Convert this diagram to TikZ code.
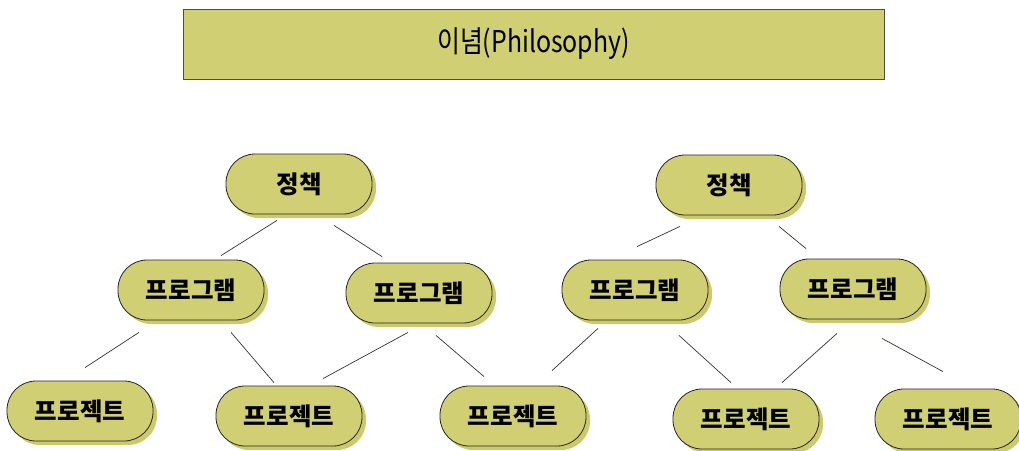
\documentclass[tikz,border=0pt]{standalone}
\usepackage{fontspec}
\setmainfont{Noto Sans CJK KR}
\usetikzlibrary{calc,shadows}
\definecolor{pillfill}{RGB}{209,207,116}
\definecolor{pillshade}{RGB}{203,201,108}
\tikzset{
  pill/.style={draw=black!85,line width=0.8pt,fill=pillfill,rounded corners=29pt,
    minimum width=146pt,minimum height=60pt,inner sep=0pt,
    font=\fontsize{24.5}{28}\selectfont\bfseries,
    drop shadow={shadow xshift=4pt,shadow yshift=-4pt,fill=pillshade,opacity=1}},
  link/.style={draw=black!80,line width=0.7pt}
}
\begin{document}
\begin{tikzpicture}[x=1pt,y=-1pt]
  \useasboundingbox (0,0) rectangle (1019,450);
  % Philosophy banner
  \node[draw=black!70,line width=0.8pt,fill=pillfill,minimum width=701pt,minimum height=70pt,
    font=\fontsize{30}{34}\selectfont] (title) at (533.5,44) {\scalebox{0.83}[1]{이념(Philosophy)}};
  % Policies
  \node[pill] (pol1) at (299,184) {정책};
  \node[pill] (pol2) at (729,185) {정책};
  % Programs
  \node[pill] (prg1) at (191,290) {프로그램};
  \node[pill] (prg2) at (419,293) {프로그램};
  \node[pill] (prg3) at (635,290) {프로그램};
  \node[pill] (prg4) at (853,289) {프로그램};
  % Projects
  \node[pill] (prj1) at (80,411) {프로젝트};
  \node[pill] (prj2) at (289,416) {프로젝트};
  \node[pill] (prj3) at (513,416) {프로젝트};
  \node[pill] (prj4) at (746,419) {프로젝트};
  \node[pill] (prj5) at (948,419) {프로젝트};
  % Policy to program
  \draw[link] ($(pol1.south)+(-22,6)$) -- ($(prg1.north)+(30,-4)$);
  \draw[link] ($(pol1.south)+(35,11)$) -- ($(prg2.north)+(-37,-6)$);
  \draw[link] ($(pol2.south)+(-49,11)$) -- ($(prg3.north)+(2,-13)$);
  \draw[link] ($(pol2.south)+(50,11)$) -- ($(prg4.north)+(-47,-10)$);
  % Program to project
  \draw[link] ($(prg1.south)+(-52,12)$) -- ($(prj1.north)+(5,-13)$);
  \draw[link] ($(prg1.south)+(40,12)$) -- ($(prj2.north)+(-15,-3)$);
  \draw[link] ($(prg2.south)+(-11,9)$) -- ($(prj2.north)+(34,-7)$);
  \draw[link] ($(prg2.south)+(17,12)$) -- ($(prj3.north)+(-29,-9)$);
  \draw[link] ($(prg3.south)+(-37,8)$) -- ($(prj3.north)+(39,-15)$);
  \draw[link] ($(prg3.south)+(44,15)$) -- ($(prj4.north)+(-15,-6)$);
  \draw[link] ($(prg4.south)+(-16,14)$) -- ($(prj4.north)+(36,-6)$);
  \draw[link] ($(prg4.south)+(29,19)$) -- ($(prj5.north)+(-5,-17)$);
\end{tikzpicture}
\end{document}
